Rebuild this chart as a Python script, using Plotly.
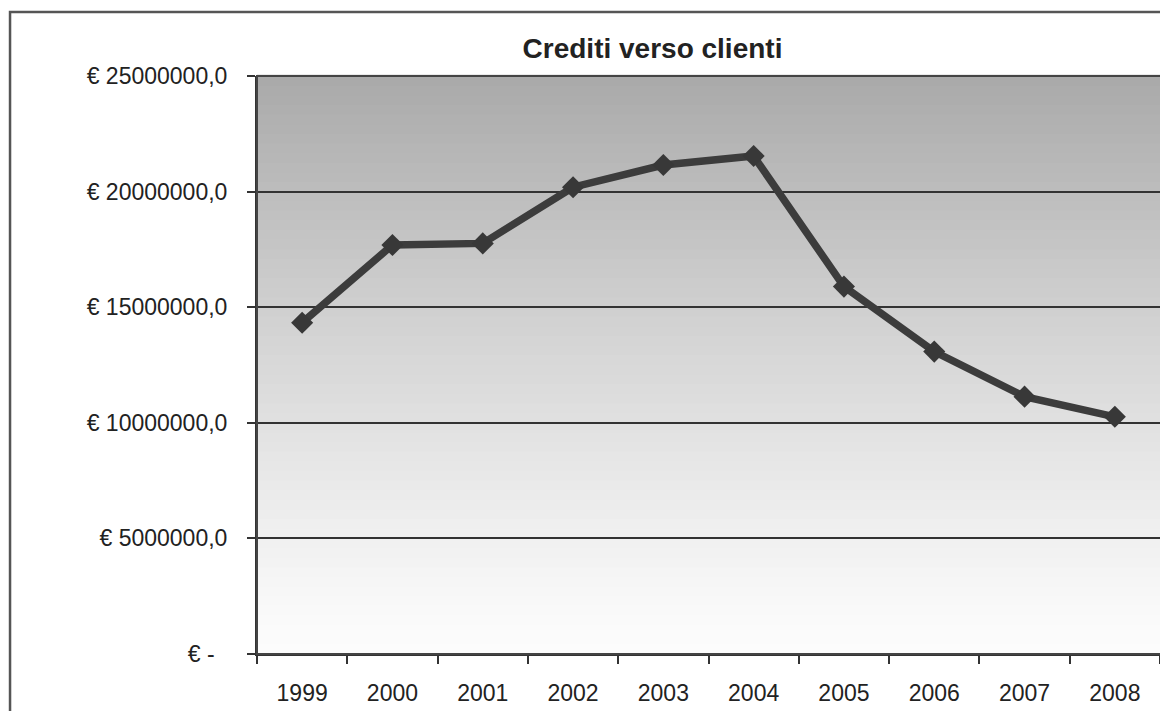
import plotly.graph_objects as go

# Crediti verso clienti, 1999-2008 (euro)
anni = ["1999", "2000", "2001", "2002", "2003", "2004", "2005", "2006", "2007", "2008"]
crediti = [14330000, 17690000, 17760000, 20190000, 21150000, 21540000,
           15890000, 13080000, 11130000, 10260000]

y_ticks = [0, 5000000, 10000000, 15000000, 20000000, 25000000]
y_labels = ["€ -\u00a0\u00a0", "€ 5000000,0", "€ 10000000,0", "€ 15000000,0",
            "€ 20000000,0", "€ 25000000,0"]

FONT = "Liberation Sans, Arial, sans-serif"
Y_MAX = 25000000

fig = go.Figure()

fig.add_trace(go.Scatter(
    x=anni, y=crediti,
    mode="lines+markers",
    line=dict(color="#3c3c3c", width=7.5),
    marker=dict(symbol="diamond", size=17, color="#383838"),
    showlegend=False,
    hoverinfo="skip",
))

# Vertical grey gradient behind the plot area: darker at the top, almost white at the bottom
shapes = []
n_bands = 60
for i in range(n_bands):
    t = i / (n_bands - 1)              # 0 at bottom, 1 at top
    g = int(round(252 - (252 - 170) * (t ** 1.2)))
    shapes.append(dict(
        type="rect", xref="paper", yref="paper",
        x0=0, x1=1, y0=i / n_bands, y1=(i + 1) / n_bands + 0.002,
        fillcolor=f"rgb({g},{g},{g})", line=dict(width=0), layer="below",
    ))

# Plot-area frame (right side runs past the page edge)
shapes.append(dict(type="rect", xref="paper", yref="paper",
                   x0=0, x1=1.01, y0=0, y1=1,
                   line=dict(color="#444444", width=2), layer="above"))
# Outer chart frame
shapes.append(dict(type="rect", xref="paper", yref="paper",
                   x0=-0.2735, x1=1.01, y0=-0.12, y1=1.1107,
                   line=dict(color="#555555", width=2.5), layer="above"))

fig.update_layout(
    width=1160, height=711,
    margin=dict(l=257, r=0, t=76, b=57),
    paper_bgcolor="white",
    plot_bgcolor="rgba(0,0,0,0)",
    shapes=shapes,
    title=dict(
        text="<b>Crediti verso clienti</b>",
        font=dict(family=FONT, size=28, color="#222222"),
        x=0.438, xref="paper", xanchor="center",
        y=1 - 48 / 711, yref="container", yanchor="middle",
    ),
    font=dict(family=FONT, size=23, color="#222222"),
)

fig.update_xaxes(
    type="category",
    range=[-0.5, 9.5],
    showgrid=False,
    showline=True, linecolor="#333333", linewidth=2,
    ticks="outside", tickson="boundaries", ticklen=8, tickwidth=2, tickcolor="#333333",
    tickfont=dict(family=FONT, size=23, color="#222222"),
    ticklabelstandoff=17,
    zeroline=False,
)

fig.update_yaxes(
    range=[0, Y_MAX],
    tickvals=y_ticks, ticktext=y_labels,
    showgrid=True, gridcolor="#333333", gridwidth=1.6,
    showline=True, linecolor="#333333", linewidth=2,
    ticks="outside", ticklen=8, tickwidth=2, tickcolor="#333333",
    tickfont=dict(family=FONT, size=23, color="#222222"),
    ticklabelstandoff=15,
    zeroline=False,
)

fig.write_html("out.html")
